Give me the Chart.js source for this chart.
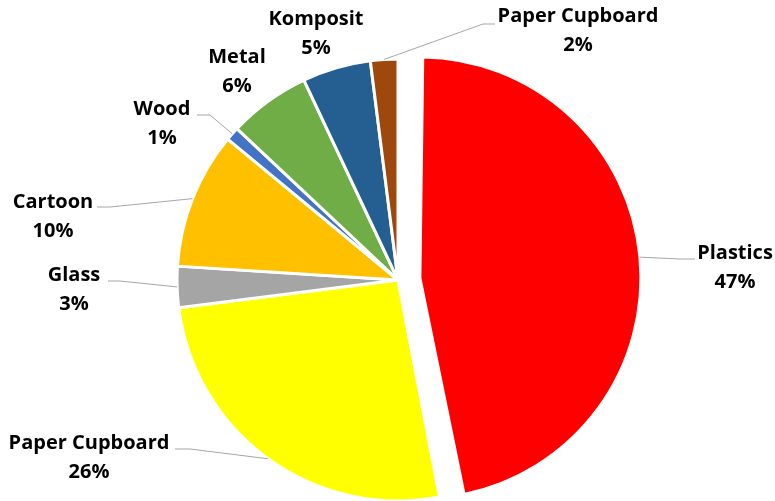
<!DOCTYPE html>
<html>
<head>
<meta charset="utf-8">
<script src="https://cdn.jsdelivr.net/npm/chart.js@4.4.1/dist/chart.umd.min.js"></script>
<style>
  html, body { margin: 0; padding: 0; background: #fff; }
  #wrap { width: 775px; height: 501px; position: relative; }
</style>
</head>
<body>
<div id="wrap"><canvas id="wasteChart"></canvas></div>
<script>
// waste composition, clockwise from 12 o'clock
const categories = ['Plastics', 'Paper Cupboard', 'Glass', 'Cartoon', 'Wood', 'Metal', 'Komposit', 'Paper Cupboard'];
const shares = [47, 26, 3, 10, 1, 6, 5, 2];
const sliceColors = ['#ff0000', '#ffff00', '#a5a5a5', '#ffc000', '#4472c4', '#70ad47', '#255e91', '#9e480e'];
// Chart.js moves an arc by a quarter of its offset
const explode = [88, 0, 0, 0, 0, 0, 0, 0];

// where each label sits: text centre x, first line centre y, and optional leader end + elbow
const labelSpots = [
    { x: 735, y: 253, end: [695, 259], elbow: [680, 259] },
    { x: 89,  y: 443, end: [175, 449], elbow: [190, 449] },
    { x: 74,  y: 275, end: [108, 281], elbow: [120, 281] },
    { x: 53,  y: 202, end: [97, 207],  elbow: [110, 207] },
    { x: 162, y: 109, end: [197, 115], elbow: [210, 115] },
    { x: 237, y: 57 },
    { x: 316, y: 19 },
    { x: 578, y: 16,  end: [495, 24],  elbow: [483, 24] }
];

const labelFont = 'bold 20px "Open Sans", sans-serif';

// an offset arc is also drawn larger by offset/4 * (1 - sin(circumference)); take that back
const keepRadius = {
    id: 'keepRadius',
    afterDatasetUpdate(chart, args) {
        args.meta.data.forEach(arc => {
            const shift = (arc.options.offset || 0) / 4;
            if (!shift) return;
            const fix = 1 - Math.sin(Math.min(Math.PI, arc.circumference));
            arc.outerRadius -= shift * fix;
            arc.$grow = shift * fix;
        });
    }
};

const pieLabels = {
    id: 'pieLabels',
    afterDatasetsDraw(chart) {
        const ctx = chart.ctx;
        const arcs = chart.getDatasetMeta(0).data;
        const total = shares.reduce((a, b) => a + b, 0);
        ctx.save();
        arcs.forEach((arc, i) => {
            const spot = labelSpots[i];
            const mid = (arc.startAngle + arc.endAngle) / 2;
            const r = arc.outerRadius + (arc.$grow || 0) + (arc.options.offset || 0) / 4;
            const ax = arc.x + Math.cos(mid) * r;
            const ay = arc.y + Math.sin(mid) * r;
            if (spot.end) {
                ctx.strokeStyle = '#a6a6a6';
                ctx.lineWidth = 1;
                ctx.beginPath();
                ctx.moveTo(ax, ay);
                ctx.lineTo(spot.elbow[0], spot.elbow[1]);
                ctx.lineTo(spot.end[0], spot.end[1]);
                ctx.stroke();
            }
            ctx.fillStyle = '#000';
            ctx.font = labelFont;
            ctx.textAlign = 'center';
            ctx.textBaseline = 'middle';
            ctx.fillText(categories[i], spot.x, spot.y);
            ctx.fillText(Math.round(shares[i] / total * 100) + '%', spot.x, spot.y + 29);
        });
        ctx.restore();
    }
};

new Chart(document.getElementById('wasteChart'), {
    type: 'pie',
    data: {
        labels: categories,
        datasets: [{
            data: shares,
            backgroundColor: sliceColors,
            borderColor: '#ffffff',
            borderWidth: 3,
            offset: explode,
            radius: 221
        }]
    },
    options: {
        responsive: true,
        maintainAspectRatio: false,
        animation: false,
        layout: { padding: { top: 59, bottom: 0, left: 120, right: 99 } },
        plugins: {
            legend: { display: false },
            tooltip: { enabled: false }
        }
    },
    plugins: [keepRadius, pieLabels]
});
</script>
</body>
</html>
